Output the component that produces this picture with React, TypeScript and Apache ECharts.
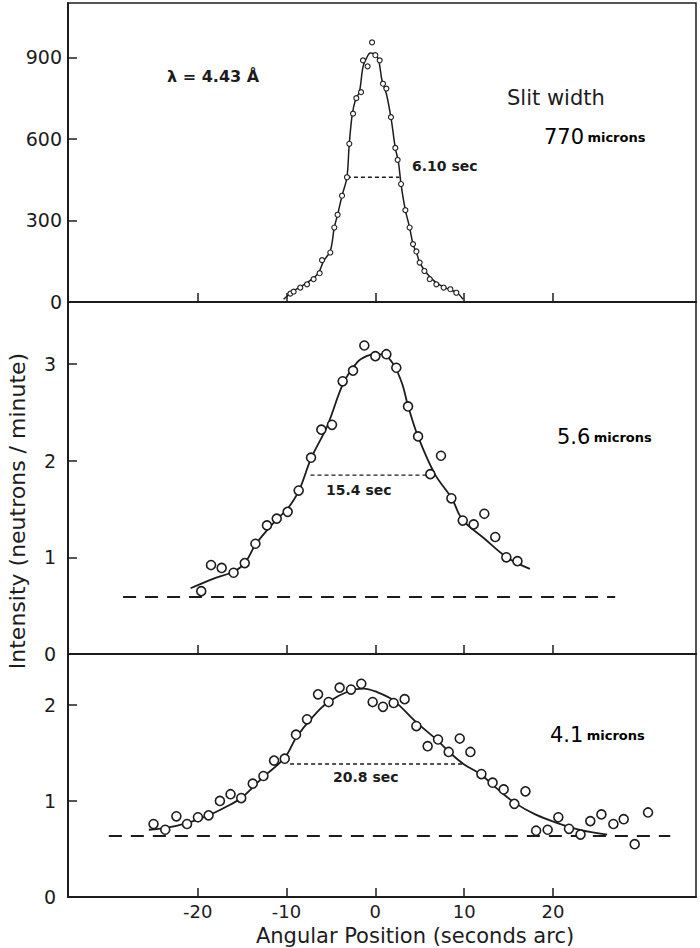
import { useEffect, useRef } from 'react';
import * as echarts from 'echarts';

const INK = '#1c1c1c';
const FONT = '"DejaVu Sans", "Liberation Sans", sans-serif';

const X_MIN = -34.6;
const X_MAX = 36.1;
const xTicks = [-20, -10, 0, 10, 20];
const topTicks = [0, 300, 600, 900];
const midTicks = [0, 1, 2, 3];
const botTicks = [0, 1, 2];

// Panel 1: slit width 770 microns
const topPoints: number[][] = [
  [-9.57, 31], [-9.2, 38], [-8.45, 53], [-7.69, 65], [-6.95, 84], [-6.27, 106], [-6.0, 154],
  [-5.07, 182], [-4.62, 274], [-4.25, 321], [-3.75, 391], [-3.19, 459], [-2.93, 582],
  [-2.51, 693], [-2.14, 750], [-1.61, 772], [-1.39, 889], [-0.87, 867], [-0.37, 955],
  [0, 908], [0.49, 889], [0.86, 803], [1.24, 785], [1.76, 680], [2.25, 567], [2.51, 523],
  [2.89, 434], [3.38, 338], [3.86, 274], [4.24, 213], [4.62, 186], [4.99, 145], [5.52, 114],
  [6.12, 84], [6.87, 65], [7.69, 53], [8.45, 47], [9.12, 34],
];
const topCurve: number[][] = [
  [-10.33, 10], [-9.2, 41], [-8.07, 63], [-7.13, 84], [-6.38, 108], [-5.82, 151], [-5.07, 188],
  [-4.62, 274], [-4.25, 321], [-3.75, 391], [-3.2, 459], [-2.95, 575], [-2.6, 690], [-2.2, 748],
  [-1.8, 772], [-1.39, 865], [-1.01, 896], [-0.56, 916], [0, 911], [0.38, 889], [0.75, 815],
  [1.24, 766], [1.76, 678], [2.25, 567], [2.6, 515], [2.89, 434], [3.38, 338], [3.86, 274],
  [4.24, 213], [4.69, 176], [5.0, 145], [5.6, 114], [6.38, 84], [7.24, 63], [8.25, 47],
  [9.2, 34], [9.87, 10],
];
const topFwhm: number[][] = [[-3.2, 459], [2.7, 459]];

// Panel 2: 5.6 microns
const midPoints: number[][] = [
  [-19.6, 0.65], [-18.5, 0.92], [-17.3, 0.89], [-15.96, 0.84], [-14.7, 0.94], [-13.5, 1.14],
  [-12.2, 1.33], [-11.1, 1.4], [-9.87, 1.47], [-8.63, 1.69], [-7.24, 2.03], [-6.08, 2.32],
  [-4.88, 2.37], [-3.68, 2.82], [-2.51, 2.93], [-1.24, 3.19], [0, 3.08], [1.24, 3.1],
  [2.36, 2.96], [3.68, 2.56], [4.81, 2.25], [6.19, 1.86], [7.39, 2.05], [8.56, 1.61],
  [9.84, 1.38], [11.07, 1.34], [12.27, 1.45], [13.5, 1.21], [14.75, 1.0], [16.0, 0.96],
];
const midCurve: number[][] = [
  [-20.8, 0.68], [-18.2, 0.78], [-16, 0.85], [-14.7, 0.94], [-13.5, 1.13], [-12, 1.3],
  [-11, 1.4], [-9.9, 1.5], [-8.6, 1.69], [-7.2, 2.03], [-5.4, 2.36], [-3.6, 2.8], [-2, 3.02],
  [-1, 3.08], [0, 3.1], [1, 3.09], [2, 3.0], [3, 2.8], [3.7, 2.56], [4.8, 2.25], [6.7, 1.86],
  [8.6, 1.61], [9.8, 1.39], [12.2, 1.2], [14.8, 1.0], [17.4, 0.88],
];
const midFwhm: number[][] = [[-7.3, 1.85], [6.2, 1.85]];
const midBase: number[][] = [[-28.4, 0.59], [27.0, 0.59]];

// Panel 3: 4.1 microns
const botPoints: number[][] = [
  [-24.97, 0.76], [-23.65, 0.7], [-22.4, 0.84], [-21.2, 0.76], [-19.97, 0.83], [-18.77, 0.85],
  [-17.5, 1.0], [-16.3, 1.07], [-15.1, 1.03], [-13.8, 1.18], [-12.6, 1.26], [-11.4, 1.42],
  [-10.2, 1.44], [-8.93, 1.69], [-7.69, 1.85], [-6.45, 2.11], [-5.26, 2.03], [-4.02, 2.18],
  [-2.74, 2.16], [-1.58, 2.22], [-0.3, 2.03], [0.86, 1.98], [2.06, 2.02], [3.3, 2.06],
  [4.62, 1.78], [5.89, 1.57], [7.06, 1.64], [8.26, 1.51], [9.5, 1.65], [10.7, 1.51],
  [11.94, 1.28], [13.2, 1.19], [14.45, 1.12], [15.65, 0.97], [16.9, 1.1], [18.1, 0.69],
  [19.4, 0.7], [20.6, 0.83], [21.8, 0.71], [23.1, 0.65], [24.2, 0.79], [25.45, 0.86],
  [26.8, 0.76], [27.96, 0.81], [29.2, 0.55], [30.7, 0.88],
];
const botCurve: number[][] = [
  [-25.5, 0.7], [-23.6, 0.72], [-21.2, 0.77], [-18.8, 0.85], [-17, 0.93], [-15.1, 1.03],
  [-12.6, 1.25], [-10.2, 1.45], [-8.9, 1.66], [-7, 1.88], [-5.3, 2.03], [-2.8, 2.15],
  [-1.3, 2.17], [0, 2.14], [2, 2.05], [4.6, 1.82], [7, 1.63], [8.3, 1.51], [10, 1.38],
  [11.8, 1.28], [13.8, 1.12], [15.7, 0.98], [18, 0.86], [20.5, 0.77], [23, 0.7], [26.1, 0.65],
];
const botFwhm: number[][] = [[-9.6, 1.385], [9.9, 1.385]];
const botBase: number[][] = [[-30.0, 0.635], [33.2, 0.635]];

const grids = [
  { left: 68, right: 4, top: 3, height: 299 },
  { left: 68, right: 4, top: 302, height: 352 },
  { left: 68, right: 4, top: 654, height: 243 },
];

function xAxis(i: number) {
  return {
    gridIndex: i,
    type: 'value',
    min: X_MIN,
    max: X_MAX,
    axisLine: { show: true, onZero: false, lineStyle: { color: INK, width: 2 } },
    axisTick: { show: true, inside: true, length: 9, customValues: xTicks, lineStyle: { color: INK, width: 1.5 } },
    axisLabel: {
      show: i === 2,
      customValues: xTicks,
      margin: 5,
      fontSize: 18,
      lineHeight: 18,
      fontFamily: FONT,
      color: INK,
    },
    splitLine: { show: false },
  };
}

function yAxis(i: number, max: number, ticks: number[], margin: number) {
  return {
    gridIndex: i,
    type: 'value',
    min: 0,
    max,
    axisLine: { show: true, onZero: false, lineStyle: { color: INK, width: 2 } },
    axisTick: { show: true, inside: true, length: 9, customValues: ticks, lineStyle: { color: INK, width: 1.5 } },
    axisLabel: { customValues: ticks, margin, fontSize: 19, fontFamily: FONT, color: INK },
    splitLine: { show: false },
  };
}

function pts(i: number, data: number[][], size: number, bw: number) {
  return {
    type: 'scatter',
    xAxisIndex: i,
    yAxisIndex: i,
    data,
    symbol: 'circle',
    symbolSize: size,
    itemStyle: { color: '#fff', borderColor: INK, borderWidth: bw, opacity: 1 },
    z: 4,
    silent: true,
  };
}

function curve(i: number, data: number[][], width: number) {
  return {
    type: 'line',
    xAxisIndex: i,
    yAxisIndex: i,
    data,
    smooth: 0.35,
    showSymbol: false,
    symbol: 'none',
    lineStyle: { color: INK, width },
    z: 3,
    silent: true,
  };
}

function dashed(i: number, data: number[][], dash: number[], width: number) {
  return {
    type: 'line',
    xAxisIndex: i,
    yAxisIndex: i,
    data,
    showSymbol: false,
    symbol: 'none',
    lineStyle: { color: INK, width, type: dash },
    z: 2,
    silent: true,
  };
}

function label(x: number, y: number, text: string, size: number, weight: string) {
  return {
    type: 'text',
    x,
    y,
    style: {
      text,
      fill: INK,
      fontSize: size,
      fontFamily: FONT,
      fontWeight: weight,
      align: 'left',
      verticalAlign: 'middle',
      textAlign: 'left',
      textVerticalAlign: 'middle',
    },
  };
}

function microns(x: number, y: number, num: string) {
  return {
    type: 'text',
    x,
    y,
    style: {
      text: `{a|${num}} {b|microns}`,
      rich: {
        a: { fontSize: 21, fontFamily: FONT, color: INK },
        b: { fontSize: 13, fontFamily: FONT, fontWeight: 'bold', color: INK },
      },
      align: 'left',
      verticalAlign: 'middle',
      textAlign: 'left',
      textVerticalAlign: 'middle',
    },
  };
}

export default function App() {
  const ref = useRef<HTMLDivElement>(null);
  useEffect(() => {
    const chart = echarts.init(ref.current!, null, { renderer: 'svg' });
    chart.setOption({
      animation: false,
      backgroundColor: '#ffffff',
      grid: grids.map((g) => ({ ...g, show: true, borderColor: INK, borderWidth: 1.5, backgroundColor: 'transparent' })),
      xAxis: [xAxis(0), xAxis(1), xAxis(2)],
      yAxis: [yAxis(0, 1100, topTicks, 6), yAxis(1, 3.64, midTicks, 12), yAxis(2, 2.53, botTicks, 12)],
      series: [
        curve(0, topCurve, 1.5),
        pts(0, topPoints, 5, 1.1),
        dashed(0, topFwhm, [4, 3], 1.4),
        curve(1, midCurve, 1.8),
        pts(1, midPoints, 9, 1.6),
        dashed(1, midFwhm, [4, 3], 1.4),
        dashed(1, midBase, [13, 9], 2),
        curve(2, botCurve, 1.8),
        pts(2, botPoints, 9, 1.6),
        dashed(2, botFwhm, [4, 3], 1.4),
        dashed(2, botBase, [13, 9], 2),
      ],
      graphic: [
        label(167, 76, 'λ = 4.43 Å', 16, 'bold'),
        label(507, 98, 'Slit width', 21, 'normal'),
        microns(544, 137, '770'),
        label(412, 166, '6.10 sec', 14, 'bold'),
        microns(557, 437, '5.6'),
        label(326, 490, '15.4 sec', 14, 'bold'),
        microns(550, 735, '4.1'),
        label(333, 777, '20.8 sec', 14, 'bold'),
        {
          type: 'text',
          x: 17,
          y: 511,
          rotation: Math.PI / 2,
          style: {
            text: 'Intensity (neutrons / minute)',
            fill: INK,
            fontSize: 22,
            fontFamily: FONT,
            align: 'center',
            verticalAlign: 'middle',
            textAlign: 'center',
            textVerticalAlign: 'middle',
          },
        },
        {
          type: 'text',
          x: 415,
          y: 936,
          style: {
            text: 'Angular Position (seconds arc)',
            fill: INK,
            fontSize: 21,
            lineHeight: 21,
            fontFamily: FONT,
            align: 'center',
            verticalAlign: 'middle',
            textAlign: 'center',
            textVerticalAlign: 'middle',
          },
        },
      ],
    });
    return () => chart.dispose();
  }, []);
  return <div ref={ref} style={{ position: 'absolute', left: 0, top: 0, width: 700, height: 948 }} />;
}
